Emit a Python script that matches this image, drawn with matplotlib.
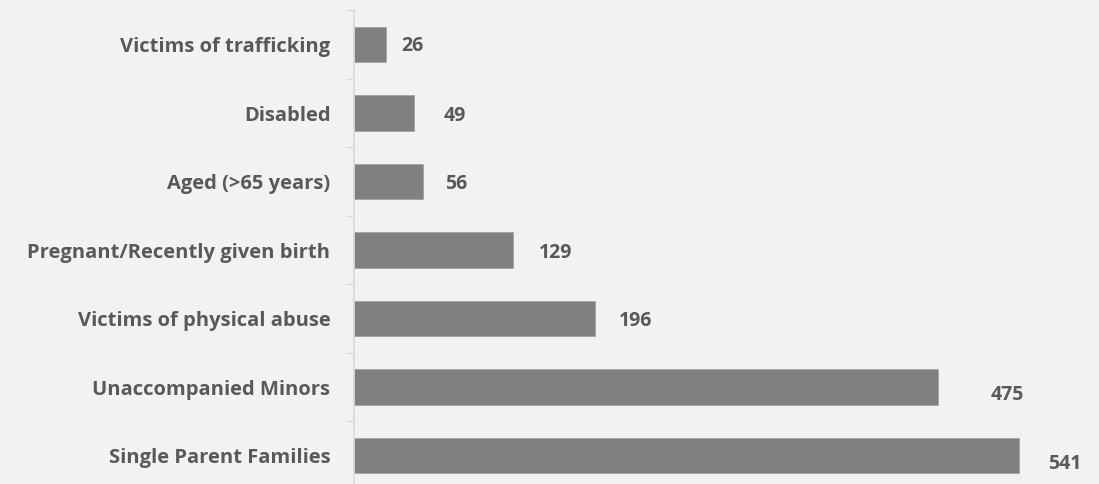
import matplotlib
matplotlib.use("Agg")
import matplotlib.pyplot as plt
import numpy as np

categories = ["Victims of trafficking", "Disabled", "Aged (>65 years)",
              "Pregnant/Recently given birth", "Victims of physical abuse",
              "Unaccompanied Minors", "Single Parent Families"]
values = [26, 49, 56, 129, 196, 475, 541]

# label offsets (style only), in points
label_dx = [19, 29, 24, 31, 29, 50, 33]
label_dy = [-1, -2, -1.5, -2, -1.5, -6, -6]

BG = "#f2f2f2"
TXT = "#595959"
AX = "#d9d9d9"
FONT = "Open Sans"

fig = plt.figure(figsize=(10.99, 4.84), dpi=100, facecolor=BG)
ax = fig.add_axes([0.3221, -0.0119, 0.6709, 0.9907])
ax.set_facecolor(BG)

y = np.arange(len(categories))
ax.barh(y, values, height=0.512, color="#808080", edgecolor="#a6a6a6", linewidth=0.7)
ax.set_xlim(0, 600)
ax.set_ylim(len(categories) - 0.5, -0.5)

ax.set_yticks(y)
ax.set_yticklabels(categories, fontfamily=FONT, fontweight="bold", fontsize=14.5, color=TXT)
ax.tick_params(axis="y", which="major", length=0, pad=17)
ax.set_yticks(np.arange(len(categories) + 1) - 0.5, minor=True)
ax.tick_params(axis="y", which="minor", length=5.5, width=1, color=AX, direction="out")
ax.set_xticks([])

for s in ["top", "right", "bottom"]:
    ax.spines[s].set_visible(False)
ax.spines["left"].set_color(AX)
ax.spines["left"].set_linewidth(1.2)

for i, v in enumerate(values):
    ax.annotate(str(v), xy=(v, i), xytext=(label_dx[i], label_dy[i]), textcoords="offset points",
                ha="center", va="center", fontfamily=FONT, fontweight="bold", fontsize=14, color=TXT)

fig.savefig("out.png", dpi=100, facecolor=BG)
